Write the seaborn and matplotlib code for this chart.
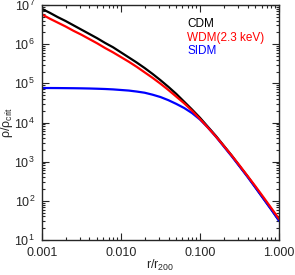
import numpy as np
import pandas as pd
import matplotlib
matplotlib.use("Agg")
import matplotlib.pyplot as plt
import seaborn as sns
from matplotlib.ticker import LogLocator, FixedLocator, FixedFormatter, NullFormatter

# log10(r/r200) sample points
log_r = [-3.0, -2.9, -2.8, -2.7, -2.6, -2.5, -2.4, -2.3, -2.2, -2.1,
         -2.0, -1.9, -1.8, -1.7, -1.6, -1.5, -1.4, -1.3, -1.2, -1.1,
         -1.0, -0.9, -0.8, -0.7, -0.6, -0.5, -0.4, -0.3, -0.2, -0.1, 0.0]

# log10(rho/rho_crit) for each model
log_cdm = [6.90, 6.80, 6.69, 6.59, 6.48, 6.37, 6.26, 6.15, 6.03, 5.92,
           5.79, 5.66, 5.53, 5.39, 5.24, 5.08, 4.91, 4.73, 4.53, 4.33,
           4.12, 3.89, 3.66, 3.41, 3.16, 2.89, 2.63, 2.35, 2.07, 1.79, 1.50]
log_wdm = [6.76, 6.65, 6.55, 6.45, 6.34, 6.24, 6.13, 6.02, 5.90, 5.79,
           5.67, 5.55, 5.42, 5.28, 5.14, 4.99, 4.83, 4.66, 4.49, 4.30,
           4.09, 3.87, 3.645, 3.405, 3.16, 2.905, 2.64, 2.375, 2.10, 1.82, 1.54]
log_sidm = [4.88, 4.88, 4.879, 4.877, 4.875, 4.872, 4.868, 4.862, 4.855, 4.845,
            4.83, 4.815, 4.79, 4.76, 4.71, 4.65, 4.57, 4.475, 4.37, 4.24,
            4.075, 3.87, 3.64, 3.39, 3.14, 2.88, 2.615, 2.34, 2.06, 1.78, 1.49]

models = ["CDM", "WDM(2.3 keV)", "SIDM"]
colors = {"CDM": "black", "WDM(2.3 keV)": "red", "SIDM": "blue"}
draw_order = ["CDM", "SIDM", "WDM(2.3 keV)"]

rows = []
for name, vals in zip(models, [log_cdm, log_wdm, log_sidm]):
    for lr, lv in zip(log_r, vals):
        rows.append({"r": 10 ** lr, "rho": 10 ** lv, "model": name})
df = pd.DataFrame(rows)

sns.set_style("ticks")
plt.rcParams["font.family"] = ["Liberation Sans", "DejaVu Sans"]
plt.rcParams["mathtext.fontset"] = "custom"
plt.rcParams["mathtext.rm"] = "Liberation Sans"
plt.rcParams["mathtext.it"] = "Liberation Sans"

fig = plt.figure(figsize=(2.95, 2.75), dpi=100)
ax = fig.add_axes([0.142, 0.127, 0.804, 0.855])

sns.lineplot(data=df, x="r", y="rho", hue="model", hue_order=draw_order,
             palette=colors, linewidth=1.6, legend=False, ax=ax, sort=False)

ax.set_xscale("log")
ax.set_yscale("log")
ax.set_xlim(0.001, 1.0)
ax.set_ylim(10, 1e7)

ax.xaxis.set_major_locator(FixedLocator([0.001, 0.01, 0.1, 1.0]))
ax.xaxis.set_major_formatter(FixedFormatter(["0.001", "0.010", "0.100", "1.000"]))
ax.xaxis.set_minor_locator(LogLocator(base=10, subs=np.arange(2, 10)))
ax.xaxis.set_minor_formatter(NullFormatter())
ax.yaxis.set_major_locator(LogLocator(base=10, numticks=10))
ax.yaxis.set_minor_locator(LogLocator(base=10, subs=np.arange(2, 10), numticks=20))
ax.yaxis.set_minor_formatter(NullFormatter())

ax.tick_params(which="both", direction="in", top=True, right=True,
               labelsize=9, width=0.8, pad=5)
ax.tick_params(which="major", length=5)
ax.tick_params(which="minor", length=2.5)
for s in ax.spines.values():
    s.set_linewidth(1.0)

ax.set_xlabel(r"r/r$_{\mathrm{200}}$", fontsize=9)
ax.set_ylabel(r"$\rho/\rho_{\mathrm{crit}}$", fontsize=9)
ax.xaxis.set_label_coords(0.5, -0.075)
ax.yaxis.set_label_coords(-0.115, 0.5)

for i, name in enumerate(models):
    ax.text(0.612, 0.918 - i * 0.057, name, color=colors[name], fontsize=8.5,
            transform=ax.transAxes, va="center", ha="left")

fig.savefig("out.png", dpi=100)
